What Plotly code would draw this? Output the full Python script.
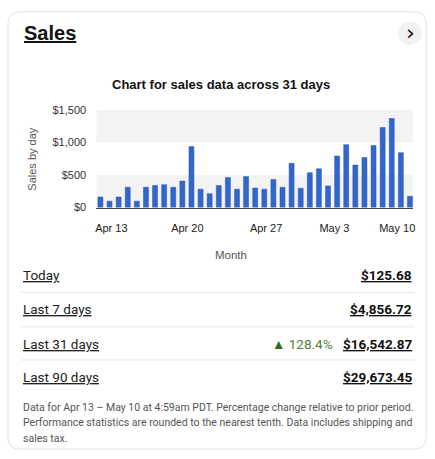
import plotly.graph_objects as go

# ---- data ----
day_index = list(range(35))
sales = [163, 99, 163, 312, 99, 312, 337, 351, 312, 406, 935, 282, 213, 337, 460, 282,
         475, 300, 282, 431, 312, 678, 297, 535, 594, 332, 792, 965, 653, 767, 950,
         1228, 1365, 842, 173]
tick_pos = [1.2, 9.55, 18.2, 25.7, 32.6]
tick_labels = ["Apr 13", "Apr 20", "Apr 27", "May 3", "May 10"]
y_ticks = [0, 500, 1000, 1500]
y_tick_labels = ["$0", "$500", "$1,000", "$1,500"]
band_ranges = [(0, 500), (1000, 1500)]

row_labels = ["Today", "Last 7 days", "Last 31 days", "Last 90 days"]
row_values = ["$125.68", "$4,856.72", "$16,542.87", "$29,673.45"]
change_label = "128.4%"
footnote = ["Data for Apr 13 \u2013 May 10 at 4:59am PDT. Percentage change relative to prior period.",
            "Performance statistics are rounded to the nearest tenth. Data includes shipping and",
            "sales tax."]

W, H = 435, 459
def px(x):
    return x / W
def py(y):
    return 1 - y / H

fig = go.Figure()
fig.add_trace(go.Bar(x=day_index, y=sales, marker=dict(color="#3366cc", line=dict(color="#2a57b3", width=0.5)),
                     width=0.55, hoverinfo="skip"))

shapes = []
for lo, hi in band_ranges:
    shapes.append(dict(type="rect", xref="x domain", yref="y", x0=0, x1=1, y0=lo, y1=hi,
                       fillcolor="#f3f3f3", line=dict(width=0), layer="below"))
# card border
x0, y0, x1, y1, r = 7, 6, 428, 455, 12
path = (f"M {px(x0+r)} {py(y0)} L {px(x1-r)} {py(y0)} Q {px(x1)} {py(y0)} {px(x1)} {py(y0+r)} "
        f"L {px(x1)} {py(y1-r)} Q {px(x1)} {py(y1)} {px(x1-r)} {py(y1)} "
        f"L {px(x0+r)} {py(y1)} Q {px(x0)} {py(y1)} {px(x0)} {py(y1-r)} "
        f"L {px(x0)} {py(y0+r)} Q {px(x0)} {py(y0)} {px(x0+r)} {py(y0)} Z")
shapes.append(dict(type="path", xref="paper", yref="paper", path=path,
                   line=dict(color="#e2e2e2", width=1)))
# chevron circle
shapes.append(dict(type="circle", xref="paper", yref="paper", x0=px(400), x1=px(424), y0=py(16), y1=py(40),
                   fillcolor="#f1f1f1", line=dict(width=0)))
# separators
for ys in [294, 329.5, 363.5]:
    shapes.append(dict(type="line", xref="paper", yref="paper", x0=px(20), x1=px(416), y0=py(ys), y1=py(ys),
                       line=dict(color="#e6e6e6", width=1)))

ann = []
ann.append(dict(text="Sales", x=px(21), y=py(28), xref="paper", yref="paper", xanchor="left", yanchor="middle",
                showarrow=False, font=dict(family="Liberation Sans, Arial", size=20, color="#111", weight="bold",
                                           lineposition="under")))
ann.append(dict(text="\u203a", x=px(412), y=py(27), xref="paper", yref="paper", xanchor="center", yanchor="middle",
                showarrow=False, font=dict(family="DejaVu Sans", size=22, color="#111")))
ann.append(dict(text="Chart for sales data across 31 days", x=px(222), y=py(80.5), xref="paper", yref="paper",
                xanchor="center", yanchor="middle", showarrow=False,
                font=dict(family="Liberation Sans, Arial", size=13, color="#111", weight="bold")))
ann.append(dict(text="Sales by day", x=px(31), y=py(157), xref="paper", yref="paper", textangle=-90,
                xanchor="center", yanchor="middle", showarrow=False,
                font=dict(family="Liberation Sans, Arial", size=11, color="#555")))
ann.append(dict(text="Month", x=px(232), y=py(256), xref="paper", yref="paper",
                xanchor="center", yanchor="middle", showarrow=False,
                font=dict(family="Liberation Sans, Arial", size=11.5, color="#555")))
row_y = [276, 311.5, 347, 380.5]
for lab, val, ry in zip(row_labels, row_values, row_y):
    ann.append(dict(text=lab, x=px(20), y=py(ry), xref="paper", yref="paper", xanchor="left", yanchor="middle",
                    showarrow=False, font=dict(family="Roboto", size=13.5, color="#222", lineposition="under")))
    ann.append(dict(text=val, x=px(416), y=py(ry), xref="paper", yref="paper", xanchor="right", yanchor="middle",
                    showarrow=False, font=dict(family="Roboto", size=13.5, color="#111", weight="bold",
                                               lineposition="under")))
ann.append(dict(text="<span style='color:#2e6a1c'>\u25b2</span> " + change_label, x=px(336), y=py(347),
                xref="paper", yref="paper", xanchor="right", yanchor="middle", showarrow=False,
                font=dict(family="Roboto", size=13.5, color="#4f8040")))
for i, line in enumerate(footnote):
    ann.append(dict(text=line, x=px(20), y=py(412 + 16 * i), xref="paper", yref="paper", xanchor="left",
                    yanchor="middle", showarrow=False, font=dict(family="Roboto", size=10.5, color="#555")))

fig.update_layout(
    width=W, height=H, margin=dict(l=0, r=0, t=0, b=0),
    paper_bgcolor="white", plot_bgcolor="white", showlegend=False,
    shapes=shapes, annotations=ann,
    xaxis=dict(domain=[px(96), px(415)], range=[-0.45, 34.35], tickmode="array", tickvals=tick_pos,
               ticktext=tick_labels, showgrid=False, zeroline=False, showline=True, linecolor="#444", linewidth=1,
               ticks="outside", ticklen=10, tickcolor="rgba(0,0,0,0)",
               tickfont=dict(family="Liberation Sans, Arial", size=11, color="#222")),
    yaxis=dict(domain=[py(207), py(106.5)], range=[0, 1500], tickmode="array", tickvals=y_ticks,
               ticktext=y_tick_labels, showgrid=False, zeroline=False, ticks="outside", ticklen=7,
               tickcolor="rgba(0,0,0,0)", tickfont=dict(family="Liberation Sans, Arial", size=11, color="#333")),
)
fig.write_html("out.html", config={"displayModeBar": False},
               post_script="document.body.style.margin='0px';document.body.style.overflow='hidden';")
